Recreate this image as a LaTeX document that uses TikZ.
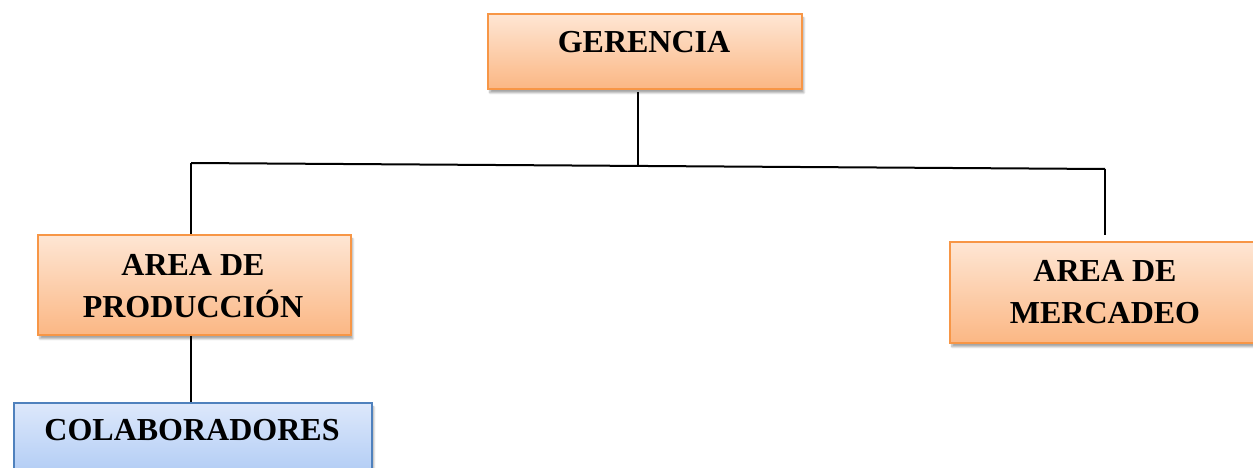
\documentclass[tikz,border=0pt]{standalone}
\usepackage{fontspec}
\setmainfont{Liberation Serif}
\usetikzlibrary{shadows.blur}
\definecolor{orbord}{HTML}{F79646}
\definecolor{ortop}{HTML}{FEE6D4}
\definecolor{orbot}{HTML}{FBB784}
\definecolor{blbord}{HTML}{4F81BD}
\definecolor{bltop}{HTML}{DDE8FB}
\definecolor{blbot}{HTML}{A6C5F3}
\tikzset{
  obox/.style={draw=orbord, line width=1.8pt, top color=ortop, bottom color=orbot,
    blur shadow={shadow xshift=2pt, shadow yshift=-4pt, shadow blur steps=6, shadow opacity=35},
    inner sep=0pt, anchor=north west},
  bbox/.style={obox, draw=blbord, top color=bltop, bottom color=blbot},
  lbl/.style={font=\fontsize{32}{42}\selectfont\bfseries, align=center, inner sep=0pt},
  conn/.style={line width=2pt, black}
}
\begin{document}
\begin{tikzpicture}[x=1pt,y=-1pt]
\useasboundingbox (0,0) rectangle (1253,468);
% boxes
\node[obox, minimum width=314pt, minimum height=75pt] (ger) at (487,13) {};
\node[obox, minimum width=313pt, minimum height=100pt] (prod) at (37,234) {};
\node[obox, minimum width=320pt, minimum height=101pt] (merc) at (949,241) {};
\node[bbox, minimum width=358pt, minimum height=90pt] (col) at (13,402) {};
% texts
\node[lbl] (tger) at (644,42) {GERENCIA};
\node[lbl] (tprod) at (193,286) {AREA DE\\PRODUCCIÓN};
\node[lbl] (tmerc) at (1105,292) {AREA DE\\MERCADEO};
\node[lbl] (tcol) at (192,430) {COLABORADORES};
% connectors
\coordinate (jc) at (638,167);
\coordinate (gs) at (638,92);
\coordinate (lc) at (191,163);
\coordinate (rc) at (1105,169);
\draw[conn] (gs) -- (jc);
\draw[conn] (lc) -- (rc);
\draw[conn] (lc) -- (lc |- prod.north);
\draw[conn] (rc) -- (rc |- 0,235);
\draw[conn] (lc |- prod.south) -- (lc |- col.north);
\end{tikzpicture}
\end{document}
